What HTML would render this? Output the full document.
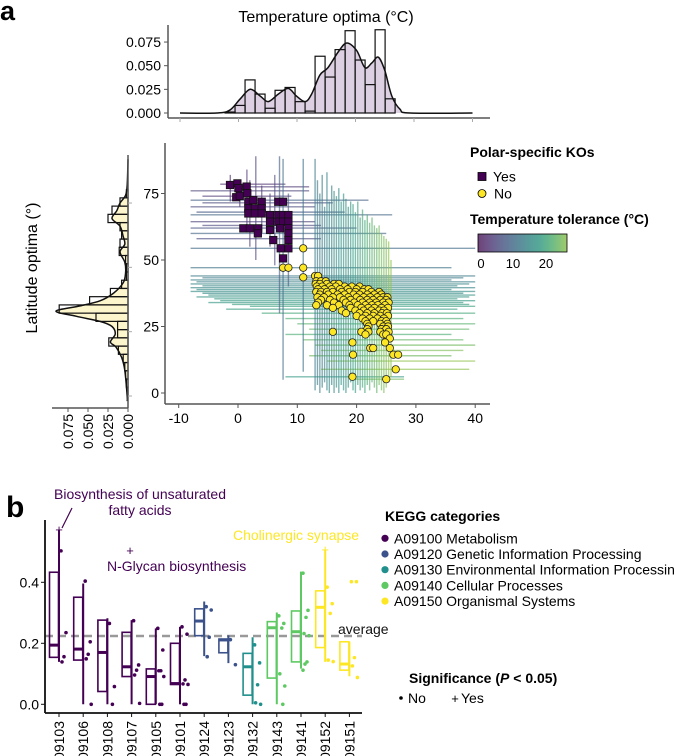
<!DOCTYPE html>
<html><head><meta charset="utf-8">
<style>
body{margin:0;background:#fff;}
svg{display:block;font-family:"Liberation Sans",Arial,sans-serif;}
</style></head>
<body>
<svg id="fig" width="675" height="756" viewBox="0 0 675 756" xmlns="http://www.w3.org/2000/svg">
<text x="0" y="20" font-size="27" font-weight="bold">a</text>
<text x="326" y="22" font-size="16" text-anchor="middle">Temperature optima (°C)</text>
<text transform="translate(37,268) rotate(-90)" font-size="16" text-anchor="middle">Latitude optima (°)</text>
<g id="topHist"></g>
<g id="leftHist"></g>
<g id="main"></g>
<g id="legA">
<text x="470" y="157" font-size="14" font-weight="bold">Polar-specific KOs</text>
<rect x="478" y="172.5" width="8" height="8" fill="#440154" stroke="#000" stroke-width="0.8"/>
<text x="493" y="181.5" font-size="14">Yes</text>
<circle cx="482" cy="193.5" r="4" fill="#fde725" stroke="#000" stroke-width="0.8"/>
<text x="494" y="198.5" font-size="14">No</text>
<text x="470" y="224" font-size="14" font-weight="bold">Temperature tolerance (°C)</text>
<defs><linearGradient id="tolGrad" x1="0" x2="1" y1="0" y2="0"></linearGradient></defs>
<rect x="478" y="234" width="89" height="18" fill="url(#tolGrad)" stroke="#000" stroke-width="0.8"/>
<text x="481" y="268" font-size="13" text-anchor="middle">0</text>
<text x="513" y="268" font-size="13" text-anchor="middle">10</text>
<text x="546" y="268" font-size="13" text-anchor="middle">20</text>
</g>
<text x="6" y="517" font-size="30" font-weight="bold">b</text>
<g id="boxes"></g>
<g id="legB">
<text x="385" y="521" font-size="14" font-weight="bold">KEGG categories</text>
</g>
<text x="409" y="683" font-size="14" font-weight="bold">Significance (<tspan font-style="italic">P</tspan> &lt; 0.05)</text>
<circle cx="401" cy="698" r="1.8" fill="#000"/>
<text x="408" y="703" font-size="14">No</text>
<text x="455" y="703" font-size="13" text-anchor="middle">+</text>
<text x="461" y="703" font-size="14">Yes</text>
</svg>
<script>
// ---------- Panel a data ----------
const histTBins = [0.001,0.008,0.035,0.020,0.005,0.024,0.027,0.012,0.002,0.060,0.038,0.067,0.087,0.056,0.030,0.088,0.015,0.000];
const histTStart = -2.3, histTWidth = 1.71;
const densT_x = [-10,-3.7,-1.5,0.3,2.0,3.7,5.1,6.8,8.5,9.9,11.4,12.5,13.9,15.3,17.1,18.5,20.2,21.6,22.8,23.9,25.0,26.2,27.6,29.3,40];
const densT_y = [0,0,0.003,0.015,0.025,0.018,0.012,0.020,0.026,0.018,0.012,0.020,0.040,0.048,0.065,0.074,0.066,0.048,0.053,0.059,0.045,0.018,0.004,0,0];
const histLBins = [0.001,0.002,0.003,0.004,0.006,0.012,0.024,0.013,0.013,0.040,0.086,0.048,0.022,0.008,0.002,0.002,0.003,0.011,0.010,0.008,0.010,0.025,0.020,0.010,0.002];
const histLStart = 0.2, histLWidth = 3.2;
const densL_x = [-2,0,10,15,19,21,24,27,29,31,33,35,37,40,44,48,52,56,59,62,66,69,72,75,78,82,92];
const densL_y = [0.001,0.001,0.004,0.008,0.015,0.022,0.016,0.020,0.035,0.065,0.090,0.060,0.035,0.018,0.006,0.003,0.004,0.010,0.004,0.006,0.010,0.020,0.014,0.010,0.003,0.001,0];
const polarT = [-1.35,-0.1,0.07,-0.3,0.3,1.46,1.57,1.74,2.58,4.0,1.74,2.85,4.0,1.74,2.85,4.0,0.9,2.0,3.4,5.4,3.35,6.8,7.6,5.4,6.8,7.6,8.5,5.4,6.8,7.6,8.5,7.1,8.5,8.5,5.95,8.5,7.2,8.5,7.6];
const polarL = [78.2,78.8,77.0,73.6,74.1,77.6,75.1,71.9,72.5,71.9,69.4,69.4,69.4,67.5,67.5,67.5,61.9,61.9,61.9,61.3,60.0,71.9,71.9,66.9,66.9,66.9,66.9,64.4,64.4,64.4,64.4,61.9,61.9,60.0,57.5,57.5,54.4,54.4,50.6];
const otherRows = [
 [54.4,[11.0]],[47.1,[7.6,8.5,11.0]],[43.5,[11.0]],
 [44,[13.0,13.5]],[42,[13.2,14.0,14.8]],[41,[13.1,13.8,15.0,16.2,17.0]],
 [40,[13.3,14.2,15.5,16.5,18.0,19.2,20.5]],[39,[13.5,14.6,15.8,17.2,18.5,20.0,21.3,22.0]],
 [38,[13.2,14.0,15.0,16.0,17.5,18.8,19.8,21.0,22.5,23.8]],[37,[13.8,15.2,16.8,18.0,19.5,20.5,21.8,23.0,24.2]],
 [36,[13.4,14.5,16.0,17.2,18.6,20.0,21.2,22.3,23.5,24.5,25.2]],[35,[14.0,15.5,17.8,19.0,20.6,21.8,22.8,24.0,25.0]],
 [34,[13.5,16.2,18.2,19.6,21.0,22.2,23.3,24.5,25.4]],[33,[13.2,15.0,17.0,18.8,20.2,21.5,22.6,23.6,24.8]],
 [32,[16.0,19.0,20.8,22.0,23.0,24.2,25.3]],[31,[17.5,19.8,21.2,22.5,23.8,24.6]],[30,[18.2,20.5,21.8,23.0,24.3,25.1]],
 [29,[20.0,21.5,22.8,24.0,25.3]],[28,[21.0,22.2,23.5,24.6]],[27,[21.5,22.8,24.2,25.0]],[26,[21.8,24.0,25.2]],
 [25,[22.0,24.5,25.3]],[24,[21.8,24.2,25.0]],[23,[16.0,20.8,22.0,24.0,25.4]],[22,[21.5,24.5,25.0]],
 [20.5,[25.6]],[19,[19.3,24.8]],[16.9,[22.3,22.8,25.6]],[14.4,[19.4,26.2,27.0]],[8.9,[26.6]],[6.1,[19.3]],[5.2,[25.0]]
];
const hbars = [
 [78.5,-3,8,3],[77.5,-2,12,4],[76,-8,12,5],[74,-6,9,4],[72.5,-8,22,9],[71.5,-6,16,6],[70,-8,13,6],[68,-7,18,8],[67,-8,26,10],[64.4,-8,13,5],[63,-6,14,6],[62,-8,20,7],[60,-8,25,10],[58,-7,14,6],[54.4,-8,40,11],[47.1,-8,36,12],
 [44,-8,40,13],[43.3,-6,38,13],[42.5,-8,36,14],[41.8,-7,40,14],[41,-8,39,15],[40.3,-6,37,15],[39.6,-8,40,15],[38.9,-7,36,16],[38.2,-8,40,16],[37.5,-6,38,16],[36.8,-5,40,17],[36.1,-7,39,17],[35.4,-4,37,18],[34.7,-3,40,18],[34,-5,38,18],[33.3,-1,39,19],[32.6,2,40,20],[31.5,-2,37,19],[30,4,40,21],[28,8,38,22],[26,10,40,23],[24,12,39,24],[22,8,36,22],[20,11,38,24],[18,13,40,25],[16,14,38,26],[14,12,36,25],[12,15,40,27],[8.9,14,39,27],[6.1,8,28,18],[5.2,19,28,25]
];
const vbars = [
 [-1.3,72,82,3],[0.3,70,80,3],[1.5,62,84,4],[2.0,55,80,4],[3.0,50,89,5],[4.0,60,78,4],[5.4,55,75,5],[6.2,48,82,6],[7.0,30,89,9],[7.6,5,88,11],[8.5,40,75,8],[11.0,8,88,12],
 [13.0,1,88,13],[13.4,3,80,13],[13.8,0,75,14],[14.2,2,82,14],[14.6,4,70,14],[15.0,1,83,15],[15.4,0,72,15],[15.8,3,78,15],[16.2,0,76,16],[16.6,2,74,16],[17.0,0,77,16],[17.4,3,72,17],[17.8,1,75,17],[18.2,0,73,17],[18.6,2,70,18],[19.0,4,72,18],[19.4,1,71,19],[19.8,0,68,19],[20.2,3,72,20],[20.6,1,66,20],[21.0,2,69,21],[21.4,0,65,21],[21.8,3,67,22],[22.2,1,64,23],[22.6,4,66,23],[23.0,2,63,24],[23.4,0,62,24],[23.8,3,63,25],[24.2,1,60,25],[24.6,0,59,26],[25.0,2,58,26],[25.4,4,57,27],[25.8,6,50,27]
];
const xTicksA = [-10,0,10,20,30,40];
const yTicksA = [0,25,50,75];
const margTicks = ["0.075","0.050","0.025","0.000"];
const margTickVals = [0.075,0.05,0.025,0];

// ---------- Panel b data ----------
const cats = ["09103","09106","09108","09107","09105","09101","09124","09123","09132","09143","09141","09152","09151"];
const catGroup = [0,0,0,0,0,0,1,1,2,3,3,4,4];
const q1 = [0.154,0.145,0.042,0.091,0.0,0.065,0.225,0.169,0.030,0.086,0.139,0.186,0.112];
const med = [0.194,0.181,0.170,0.123,0.091,0.068,0.273,0.211,0.123,0.251,0.238,0.318,0.132];
const q3 = [0.433,0.351,0.276,0.236,0.116,0.200,0.313,0.214,0.167,0.271,0.306,0.372,0.205];
const wLo = [0.139,0.0,0.0,0.0,0.0,0.0,0.158,0.135,0.0,0.0,0.117,0.139,0.092];
const wHi = [0.571,0.396,0.282,0.276,0.249,0.254,0.337,0.226,0.220,0.301,0.435,0.506,0.205];
const dots = [
 [0.503,0.235,0.156,0.139],
 [0.404,0.205,0.164,0.149,0.0],
 [0.265,0.058,0.0],
 [0.274,0.129,0.112,0.096,0.003],
 [0.249,0.178,0.110,0.110,0.091,0.0,0.0],
 [0.254,0.230,0.080,0.067,0.065,0.0,0.0],
 [0.320,0.309,0.220,0.156],
 [0.212,0.130],
 [0.195,0.136,0.064,0.005,0.0],
 [0.290,0.265,0.250,0.100,0.060,0.0],
 [0.430,0.308,0.285,0.232,0.225,0.139,0.132,0.112],
 [0.384,0.330,0.298,0.145,0.140],
 [0.402,0.402,0.153,0.126,0.088]
];
const sigYes = [[0,0.571],[11,0.506]];
const avgVal = 0.224;
const yTicksB = [0,0.2,0.4];
const groupNames = ["A09100 Metabolism","A09120 Genetic Information Processing","A09130 Environmental Information Processing","A09140 Cellular Processes","A09150 Organismal Systems"];
const groupColors = ["#440154","#3b528b","#21908d","#5ec962","#fde725"];

// ---------- helpers ----------
const NS="http://www.w3.org/2000/svg";
function mk(tag,attrs,parent){const e=document.createElementNS(NS,tag);for(const k in attrs)e.setAttribute(k,attrs[k]);parent.appendChild(e);return e;}
const VIR=["#440154","#482475","#414487","#355f8d","#2a788e","#21918c","#22a884","#44bf70","#7ad151","#bddf26","#fde725"];
function hex(c){return [parseInt(c.slice(1,3),16),parseInt(c.slice(3,5),16),parseInt(c.slice(5,7),16)];}
function viridisArr(t){t=Math.max(0,Math.min(1,t));const f=t*10,i=Math.min(9,Math.floor(f)),r=f-i;const a=hex(VIR[i]),b=hex(VIR[i+1]);return a.map((v,k)=>v+(b[k]-v)*r);}
function tolColor(tol){const c=viridisArr(tol/32);return "rgb("+c.map(v=>Math.round(v*0.75+128*0.25)).join(",")+")";}
function smooth(pts){let d="M"+pts[0][0]+","+pts[0][1];for(let i=0;i<pts.length-1;i++){const p0=pts[Math.max(0,i-1)],p1=pts[i],p2=pts[i+1],p3=pts[Math.min(pts.length-1,i+2)];const c1=[p1[0]+(p2[0]-p0[0])/6,p1[1]+(p2[1]-p0[1])/6],c2=[p2[0]-(p3[0]-p1[0])/6,p2[1]-(p3[1]-p1[1])/6];d+=" C"+c1[0].toFixed(1)+","+c1[1].toFixed(1)+" "+c2[0].toFixed(1)+","+c2[1].toFixed(1)+" "+p2[0].toFixed(1)+","+p2[1].toFixed(1);}return d;}

// gradient
const grad=document.getElementById('tolGrad');
for(let i=0;i<=10;i++){mk('stop',{offset:(i*10)+"%","stop-color":tolColor(27*i/10),"stop-opacity":"0.85"},grad);}

// ---------- top marginal ----------
const tX=T=>238.5+5.85*T, tY=v=>113-946*v;
const topG=document.getElementById('topHist');
{
 const pts=densT_x.map((x,i)=>[tX(x),tY(densT_y[i])]);
 const a=mk('path',{d:smooth(pts)+" L"+tX(40)+","+tY(0)+" L"+tX(-10)+","+tY(0)+" Z",fill:"#dcd0e2",stroke:"none"},topG);
 
 
 histTBins.forEach((v,i)=>{const x0=tX(histTStart+i*histTWidth);const r=mk('rect',{x:x0,y:tY(v),width:5.85*histTWidth,height:tY(0)-tY(v),fill:"none",stroke:"#111","stroke-width":1.2},topG);
  
  });
 const l=mk('path',{d:smooth(pts),fill:"none",stroke:"#111","stroke-width":1.5},topG);
 
 
 mk('line',{x1:168,y1:25,x2:168,y2:118,stroke:"#555","stroke-width":1.5},topG);
 mk('line',{x1:168,y1:118,x2:490,y2:118,stroke:"#555","stroke-width":1.5},topG);
 margTickVals.forEach((v,i)=>{mk('line',{x1:164,x2:168,y1:tY(v),y2:tY(v),stroke:"#555"},topG);
  const t=mk('text',{x:161,y:tY(v)+5,"font-size":14,"text-anchor":"end"},topG);t.textContent=margTicks[i];
  
  });
 xTicksA.forEach(v=>mk('line',{x1:tX(v),x2:tX(v),y1:118,y2:122,stroke:"#aaa"},topG));
}

// ---------- left marginal ----------
const lY=L=>396-2.573*L, lX=v=>128-800*v;
const leftG=document.getElementById('leftHist');
{
 const pts=densL_x.map((x,i)=>[lX(densL_y[i]),lY(x)]);
 const a=mk('path',{d:smooth(pts)+" L"+lX(0)+","+lY(92)+" L"+lX(0)+","+lY(-2)+" Z",fill:"#fdf5cc",stroke:"none"},leftG);
 
 
 histLBins.forEach((v,i)=>{const yTop=lY(histLStart+(i+1)*histLWidth);const r=mk('rect',{x:lX(v),y:yTop,width:lX(0)-lX(v),height:2.573*histLWidth,fill:"none",stroke:"#111","stroke-width":1.2},leftG);
  
  });
 const l=mk('path',{d:smooth(pts),fill:"none",stroke:"#111","stroke-width":1.5},leftG);
 
 
 mk('line',{x1:128,y1:155,x2:128,y2:408,stroke:"#555","stroke-width":1.5},leftG);
 mk('line',{x1:52,y1:408,x2:128,y2:408,stroke:"#555","stroke-width":1.5},leftG);
 margTickVals.forEach((v,i)=>{mk('line',{x1:lX(v),x2:lX(v),y1:408,y2:412,stroke:"#555"},leftG);
  const t=mk('text',{transform:"translate("+(lX(v)+5)+",414) rotate(-90)","font-size":14,"text-anchor":"end"},leftG);t.textContent=margTicks[i];
  
  });
 yTicksA.forEach(v=>mk('line',{x1:128,x2:132,y1:lY(v),y2:lY(v),stroke:"#aaa"},leftG));
}

// ---------- main scatter ----------
const mX=T=>238+5.93*T, mY=L=>393-2.66*L;
const mainG=document.getElementById('main');
{
 hbars.forEach(b=>{const l=mk('line',{x1:mX(b[1]),x2:mX(b[2]),y1:mY(b[0]),y2:mY(b[0]),stroke:tolColor(b[3]),"stroke-width":1.4,"stroke-opacity":0.65},mainG);
  
  });
 vbars.forEach(b=>{const l=mk('line',{x1:mX(b[0]),x2:mX(b[0]),y1:mY(b[1]),y2:mY(b[2]),stroke:tolColor(b[3]),"stroke-width":1.4,"stroke-opacity":0.65},mainG);
  
  });
 otherRows.forEach(r=>r[1].forEach(T=>{const c=mk('circle',{cx:mX(T),cy:mY(r[0]),r:3.7,fill:"#fde725",stroke:"#222","stroke-width":0.8},mainG);
  
  }));
 polarT.forEach((T,i)=>{const s=mk('rect',{x:mX(T)-3.7,y:mY(polarL[i])-3.7,width:7.4,height:7.4,fill:"#440154",stroke:"#111","stroke-width":0.8},mainG);
  
  });
 mk('line',{x1:165,y1:143,x2:165,y2:404,stroke:"#555","stroke-width":1.5},mainG);
 mk('line',{x1:165,y1:404,x2:490,y2:404,stroke:"#555","stroke-width":1.5},mainG);
 xTicksA.forEach(v=>{mk('line',{x1:mX(v),x2:mX(v),y1:404,y2:408,stroke:"#555"},mainG);
  const t=mk('text',{x:mX(v),y:423,"font-size":14,"text-anchor":"middle"},mainG);t.textContent=v;
  
  });
 yTicksA.forEach(v=>{mk('line',{x1:161,x2:165,y1:mY(v),y2:mY(v),stroke:"#555"},mainG);
  const t=mk('text',{x:159,y:mY(v)+5,"font-size":14,"text-anchor":"end"},mainG);t.textContent=v;
  
  });
}

// ---------- panel b ----------
const bX=i=>59+24.2*i, bY=v=>704.3-305*v;
const bx=document.getElementById('boxes');
{
 const avg=mk('line',{x1:45,x2:362,y1:bY(avgVal),y2:bY(avgVal),stroke:"#999","stroke-width":2.5,"stroke-dasharray":"8,5"},bx);
 
 
 cats.forEach((c,i)=>{const col=groupColors[catGroup[i]],x=bX(i);
  const g=mk('g',{},bx);
  
  
  mk('rect',{x:x-9.5,y:bY(q3[i]),width:9,height:bY(q1[i])-bY(q3[i]),fill:"none",stroke:col,"stroke-width":1.6},g);
  mk('line',{x1:x-9.5,x2:x-0.5,y1:bY(med[i]),y2:bY(med[i]),stroke:col,"stroke-width":3},g);
  mk('line',{x1:x,x2:x,y1:bY(wLo[i]),y2:bY(wHi[i]),stroke:col,"stroke-width":2},g);
  dots[i].forEach((v,k)=>{const d=mk('circle',{cx:x+2+((k*5)%7),cy:bY(v),r:1.8,fill:col},g);
   
   });
  const t=mk('text',{transform:"translate("+(x+5)+",721) rotate(-90)","font-size":14,"text-anchor":"end"},bx);t.textContent=c;
  
  
 });
 sigYes.forEach(s=>{const t=mk('text',{x:bX(s[0]),y:bY(s[1])+4,"font-size":13,"text-anchor":"middle",fill:groupColors[catGroup[s[0]]]},bx);t.textContent="+";
  
  });
 mk('line',{x1:45,y1:520,x2:45,y2:713,stroke:"#111","stroke-width":1.8},bx);
 mk('line',{x1:45,y1:713,x2:362,y2:713,stroke:"#111","stroke-width":1.8},bx);
 yTicksB.forEach(v=>{mk('line',{x1:41,x2:45,y1:bY(v),y2:bY(v),stroke:"#111"},bx);
  const t=mk('text',{x:39,y:bY(v)+5,"font-size":14,"text-anchor":"end"},bx);t.textContent=v.toFixed(1);
  
  });
 cats.forEach((c,i)=>mk('line',{x1:bX(i),x2:bX(i),y1:713,y2:717,stroke:"#111"},bx));
 const a1=mk('text',{x:140,y:499,"font-size":14,"text-anchor":"middle",fill:"#440154"},bx);a1.textContent="Biosynthesis of unsaturated";
 
 
 const a2=mk('text',{x:140,y:515,"font-size":14,"text-anchor":"middle",fill:"#440154"},bx);a2.textContent="fatty acids";
 
 
 mk('line',{x1:72,y1:508,x2:62,y2:528,stroke:"#440154","stroke-width":1.2},bx);
 const a3=mk('text',{x:107,y:571,"font-size":14,fill:"#440154"},bx);a3.textContent="N-Glycan biosynthesis";
 
 
 const p3=mk('text',{x:130,y:555,"font-size":13,"text-anchor":"middle",fill:"#440154"},bx);p3.textContent="+";
 
 
 const a4=mk('text',{x:233,y:540,"font-size":14,fill:"#fde725"},bx);a4.textContent="Cholinergic synapse";
 
 
 const a5=mk('text',{x:338,y:634,"font-size":14,fill:"#111"},bx);a5.textContent="average";
 
 
}
const legB=document.getElementById('legB');
groupNames.forEach((n,i)=>{const y=538.3+15.7*i;
 const c=mk('circle',{cx:385,cy:y,r:3.6,fill:groupColors[i]},legB);
 
 
 const t=mk('text',{x:394,y:y+5,"font-size":14},legB);t.textContent=n;
 
 });
</script>
</body></html>
